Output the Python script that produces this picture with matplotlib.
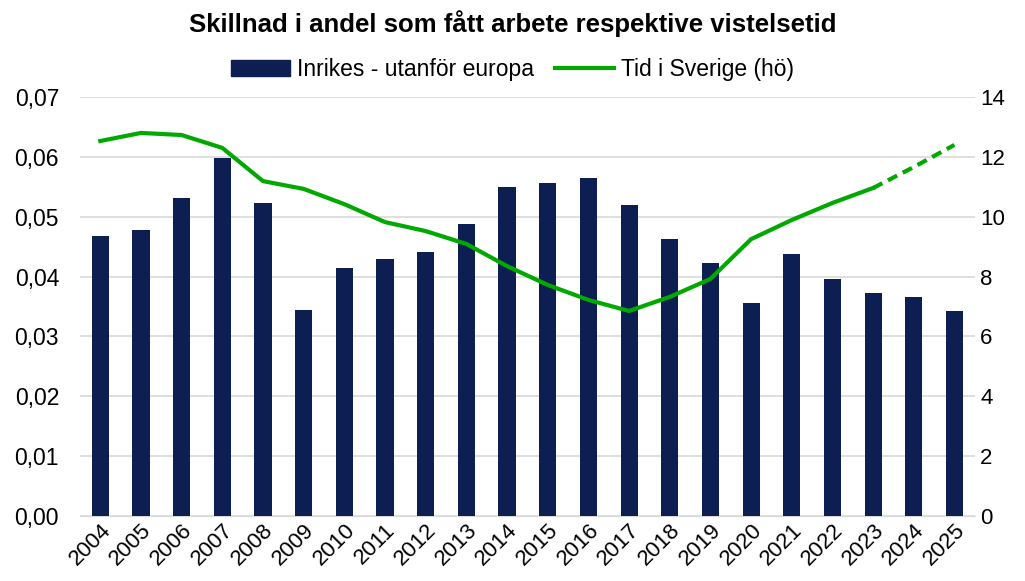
import matplotlib.pyplot as plt
import numpy as np
from matplotlib.lines import Line2D
from matplotlib.patches import Patch

# Data
years = [str(y) for y in range(2004, 2026)]
andel = [0.0468, 0.0478, 0.0531, 0.0598, 0.0523, 0.0344, 0.0414, 0.0429, 0.0441, 0.0488, 0.0550,
         0.0556, 0.0565, 0.0520, 0.0463, 0.0423, 0.0356, 0.0438, 0.0396, 0.0373, 0.0366, 0.0342]
tid = [12.53, 12.80, 12.73, 12.30, 11.19, 10.93, 10.42, 9.82, 9.52, 9.09, 8.35,
       7.72, 7.22, 6.85, 7.32, 7.92, 9.25, 9.89, 10.46, 10.96, 11.66, 12.40]
n_actual = 20  # solid line through 2023, dashed forecast after

bar_color = "#0C1E52"
line_color = "#00A800"

plt.rcParams["font.family"] = ["Liberation Sans", "DejaVu Sans"]

fig = plt.figure(figsize=(10.25, 5.81), dpi=100)
ax = fig.add_axes([0.078, 0.112, 0.873, 0.721])
ax2 = ax.twinx()

x = np.arange(len(years))
ax.bar(x, andel, width=0.42, color=bar_color, zorder=3)
ax.set_ylim(0, 0.07)
ax.set_yticks(np.arange(0, 0.0701, 0.01))
ax.set_yticklabels([f"{v:.2f}".replace(".", ",") for v in np.arange(0, 0.0701, 0.01)])
ax.grid(axis="y", color="#D9D9D9", linewidth=1.2, zorder=0)
ax.set_xlim(-0.5, len(years) - 0.5)
ax.set_xticks(x)
ax.set_xticklabels(years, rotation=45, ha="right", rotation_mode="anchor")

ax2.plot(x[:n_actual], tid[:n_actual], color=line_color, linewidth=3, zorder=4)
ax2.plot(x[n_actual - 1:], tid[n_actual - 1:], color=line_color, linewidth=3,
         linestyle=(0, (2.5, 1.5)), zorder=4)
ax2.set_ylim(0, 14)
ax2.set_yticks(range(0, 15, 2))

for a in (ax, ax2):
    for s in a.spines.values():
        s.set_visible(False)
    a.tick_params(length=0, labelsize=16, colors="black")
ax.spines["bottom"].set_visible(True)
ax.spines["bottom"].set_color("#D9D9D9")
ax.tick_params(axis="y", pad=15, labelsize=16.5)
ax.tick_params(axis="x", pad=3)
ax2.tick_params(axis="y", pad=4)

fig.suptitle("Skillnad i andel som fått arbete respektive vistelsetid",
             fontsize=18.5, fontweight="bold", y=0.982)
handles = [Patch(color=bar_color, label="Inrikes - utanför europa"),
           Line2D([], [], color=line_color, linewidth=3, label="Tid i Sverige (hö)")]
fig.legend(handles=handles, loc="center", bbox_to_anchor=(0.5, 0.88), ncol=2,
           frameon=False, fontsize=16.5, handlelength=2.6, handletextpad=0.3,
           columnspacing=0.9)

fig.savefig("out.png", dpi=100)
